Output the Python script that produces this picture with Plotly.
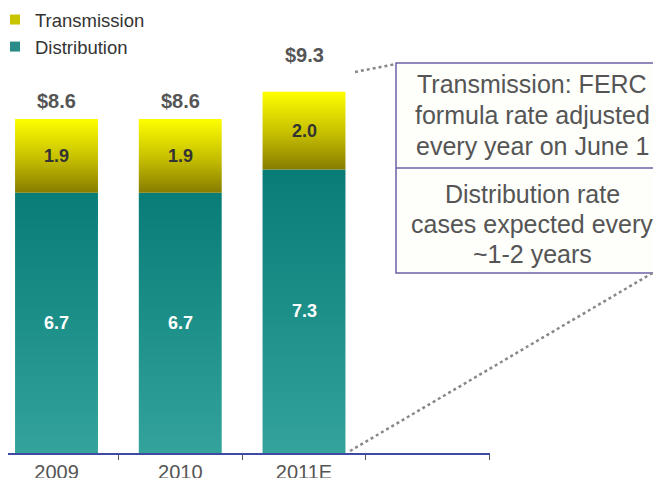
import plotly.graph_objects as go

# Revenue requirement by year ($ billions)
years = ["2009", "2010", "2011E"]
distribution = [6.7, 6.7, 7.3]
transmission = [1.9, 1.9, 2.0]
totals = ["$8.6", "$8.6", "$9.3"]

callout_top = ["Transmission: FERC", "formula rate adjusted", "every year on June 1"]
callout_bottom = ["Distribution rate", "cases expected every", "~1-2 years"]

W, H = 661, 478
OFF = 8               # page body margin: the figure starts 8 px in
PLOT_H = 445          # pixel height of the plot area
HALF = 0.335          # half bar width in category units

TRANS_SCALE = [[0, "#877c00"], [0.45, "#c4bd00"], [1, "#ffff00"]]
DIST_SCALE = [[0, "#33a39c"], [1, "#087c77"]]


def px(x):
    # screen pixel -> paper x
    return (x - OFF) / W


def py(y):
    # screen pixel -> paper y
    return 1 - (y - OFF) / PLOT_H


fig = go.Figure()

# stacked bars drawn as gradient-filled polygons
for i, (d, t) in enumerate(zip(distribution, transmission)):
    xs = [i - HALF, i + HALF, i + HALF, i - HALF, i - HALF]
    fig.add_trace(go.Scatter(
        x=xs, y=[0, 0, d, d, 0], fill="toself", mode="lines",
        line=dict(width=0), showlegend=False, hoverinfo="skip",
        fillgradient=dict(type="vertical", colorscale=DIST_SCALE),
    ))
    fig.add_trace(go.Scatter(
        x=xs, y=[d, d, d + t, d + t, d], fill="toself", mode="lines",
        line=dict(width=0), showlegend=False, hoverinfo="skip",
        fillgradient=dict(type="vertical", colorscale=TRANS_SCALE),
    ))

# legend entries
fig.add_trace(go.Scatter(x=[None], y=[None], mode="markers", name="Transmission",
                         marker=dict(symbol="square", size=10, color="#c9c400")))
fig.add_trace(go.Scatter(x=[None], y=[None], mode="markers", name="Distribution",
                         marker=dict(symbol="square", size=10, color="#2a8c88")))

annotations = []
total_shift = [5, 5, 24]
for i, (d, t) in enumerate(zip(distribution, transmission)):
    annotations.append(dict(x=i, y=d / 2, text=f"<b>{d:.1f}</b>", showarrow=False,
                            font=dict(size=18, color="white")))
    annotations.append(dict(x=i, y=d + t / 2, text=f"<b>{t:.1f}</b>", showarrow=False,
                            font=dict(size=18, color="#333333")))
    annotations.append(dict(x=i, y=d + t, text=f"<b>{totals[i]}</b>", showarrow=False,
                            yanchor="bottom", yshift=total_shift[i],
                            font=dict(size=20, color="#555555")))

# callout text
for lines, ys in [(callout_top, [84, 115, 146]), (callout_bottom, [194, 224, 254])]:
    for txt, yy in zip(lines, ys):
        annotations.append(dict(xref="paper", yref="paper", x=px(532), y=py(yy),
                                xanchor="center", yanchor="middle",
                                text=txt, showarrow=False,
                                font=dict(size=25, color="#555555")))

shapes = [
    # callout box (runs off the right edge)
    dict(type="rect", xref="paper", yref="paper", x0=px(396), x1=px(700),
         y0=py(273), y1=py(63), fillcolor="#fefefb",
         line=dict(color="#6b62a8", width=1.5)),
    dict(type="line", xref="paper", yref="paper", x0=px(396), x1=px(700),
         y0=py(168), y1=py(168), line=dict(color="#6b62a8", width=1.5)),
    # dotted connectors
    dict(type="line", xref="paper", yref="paper", x0=px(355), y0=py(72),
         x1=px(396), y1=py(64), line=dict(color="#888888", width=2.5, dash="dot")),
    dict(type="line", xref="paper", yref="paper", x0=px(350), y0=py(451),
         x1=px(661), y1=py(268), line=dict(color="#888888", width=2.5, dash="dot")),
]

fig.update_layout(
    width=W, height=H,
    margin=dict(l=0, r=0, t=0, b=H - PLOT_H, autoexpand=False),
    paper_bgcolor="white", plot_bgcolor="white",
    font=dict(family="Liberation Sans, Arial, sans-serif", color="#555555"),
    showlegend=True,
    legend=dict(x=px(-5), y=py(1), xanchor="left", yanchor="top",
                bgcolor="rgba(0,0,0,0)", font=dict(size=18.5, color="#333333"),
                itemwidth=30),
    xaxis=dict(domain=[0, px(490)], range=[-0.392, 3.503],
               tickmode="array", tickvals=[0, 1, 2], ticktext=years,
               ticks="", showgrid=False, zeroline=False, automargin=False,
               showline=True, linecolor="#3f4ba0", linewidth=1.5,
               tickfont=dict(size=20, color="#555555"),
               minor=dict(tickmode="array", tickvals=[0.5, 1.5, 2.5, 3.5],
                          ticks="outside", ticklen=5, tickcolor="#555555",
                          showgrid=False)),
    yaxis=dict(range=[0, PLOT_H / 38.85], visible=False, showgrid=False),
    annotations=annotations,
    shapes=shapes,
)

fig.write_html("out.html")
